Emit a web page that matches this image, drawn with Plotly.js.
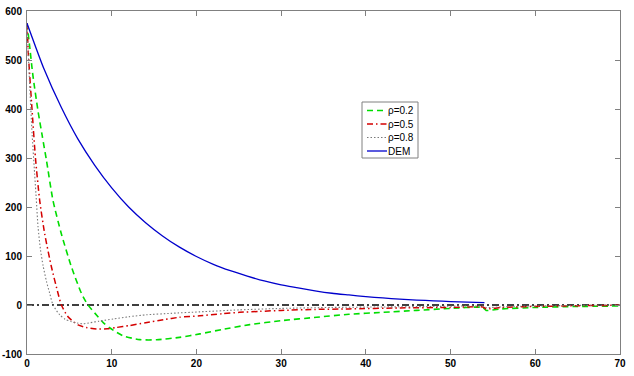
<!DOCTYPE html>
<html>
<head>
<meta charset="utf-8">
<script src="https://cdn.plot.ly/plotly-3.0.1.min.js"></script>
<style>html,body{margin:0;padding:0;background:#fff;}#chart{width:634px;height:376px;}</style>
</head>
<body>
<div id="chart"></div>
<script>
// ---- data ----
const seriesNames = ['ρ=0.2', 'ρ=0.5', 'ρ=0.8', 'DEM'];

const rho02X = [0, 0.3, 0.7, 1.3, 1.8, 2.3, 3.07, 4.06, 5.24, 6.42, 7.2, 8.38, 9.0, 9.8, 11.3, 13.3, 15.3, 18, 20.4, 23, 26.3, 30, 34.2, 38, 42, 46, 50, 53.8, 54.2, 56, 60, 65, 70];
const rho02Y = [575, 530, 468, 396, 345, 295, 213, 145, 78, 24, 0, -24, -36, -47, -62.5, -70.7, -71, -66, -59, -50, -40, -32, -25, -19, -15, -11, -7, -5, -11, -8, -5, -3, -2];

const rho05X = [0, 0.15, 0.55, 1.0, 1.5, 2.09, 2.88, 3.66, 4.06, 4.84, 6.02, 7.0, 8.2, 9.5, 10.5, 12.1, 14, 16.1, 18, 20.4, 23, 25.1, 27.5, 30, 34, 38, 44, 50, 53.8, 54.2, 56, 60, 65, 70];
const rho05Y = [575, 515, 410, 300, 213, 145, 78, 24, 0, -24, -40.6, -46, -49, -48.5, -46, -42, -36, -30, -25, -22, -18, -15, -13, -11, -9, -8, -6, -5, -4, -8, -5, -3, -1.5, -0.5];

const rho08X = [0, 0.3, 0.6, 0.9, 1.1, 1.3, 1.6, 1.9, 2.3, 2.68, 3.07, 3.86, 4.5, 5.24, 6.0, 6.6, 7.5, 8.5, 10.2, 12, 14.1, 17, 20.4, 25, 30, 36, 42, 48, 53.8, 54.2, 57, 62, 70];
const rho08Y = [575, 455, 350, 268, 215, 160, 112, 80, 48, 24, 0, -20, -29, -34, -37, -38.5, -36, -33, -28.6, -24, -20, -17, -14, -10, -7, -5, -4, -3, -2.5, -5, -3, -1.5, 0];

const demX = [0, 2, 4, 6, 8, 10, 12, 14, 16, 18, 20, 22, 24, 26, 28, 30, 32, 34, 36, 38, 40, 42, 44, 46, 48, 50, 52, 54];
const demY = [575, 482, 405, 339, 285, 239, 200, 168, 141, 118, 99, 83, 70, 59, 49, 41, 35, 29, 24, 20.5, 17, 14.4, 12, 10, 8.5, 7, 6, 5];

const zeroLineX = [0, 70];
const zeroLineY = [0, 0];

const xTicks = [0, 10, 20, 30, 40, 50, 60, 70];
const yTicks = [-100, 0, 100, 200, 300, 400, 500, 600];

// ---- styles ----
const styles = [
  {color: '#00dd00', width: 1.6, dash: '6px,4px'},
  {color: '#d40000', width: 1.5, dash: '6px,3px,1.5px,3px'},
  {color: '#7a7a7a', width: 1.1, dash: '1.5px,2px'},
  {color: '#0000cc', width: 1.3, dash: 'solid'}
];
const xs = [rho02X, rho05X, rho08X, demX];
const ys = [rho02Y, rho05Y, rho08Y, demY];

const traces = [{
  x: zeroLineX, y: zeroLineY, mode: 'lines', showlegend: false, hoverinfo: 'skip',
  line: {color: '#000000', width: 1.5, dash: '7px,3px,2px,3px'}
}];
for (let i = 0; i < 4; i++) {
  traces.push({
    x: xs[i], y: ys[i], name: seriesNames[i], mode: 'lines', showlegend: false,
    line: {color: styles[i].color, width: styles[i].width, dash: styles[i].dash, shape: 'spline', smoothing: 0.6}
  });
}

// ---- custom legend (MATLAB-like compact box) ----
const M = {l: 27, r: 14, t: 11, b: 22};
const W = 634, H = 376;
const pw = W - M.l - M.r, ph = H - M.t - M.b;
const px2x = p => (p - M.l) / pw;
const py2y = p => (H - M.b - p) / ph;

const shapes = [{
  type: 'rect', xref: 'paper', yref: 'paper', layer: 'above',
  x0: px2x(362), x1: px2x(418), y0: py2y(158), y1: py2y(102),
  fillcolor: '#ffffff', line: {color: '#808080', width: 1}
}];
const annotations = [];
const rowY = [110.5, 124, 137.5, 151];
for (let i = 0; i < 4; i++) {
  shapes.push({
    type: 'line', xref: 'paper', yref: 'paper', layer: 'above',
    x0: px2x(367), x1: px2x(387), y0: py2y(rowY[i]), y1: py2y(rowY[i]),
    line: {color: styles[i].color, width: styles[i].width, dash: styles[i].dash}
  });
  annotations.push({
    xref: 'paper', yref: 'paper', x: px2x(387), y: py2y(rowY[i]),
    xanchor: 'left', yanchor: 'middle', showarrow: false, text: seriesNames[i],
    font: {family: 'Liberation Sans, Arial, sans-serif', size: 10, color: '#000'},
    borderpad: 0
  });
}

const axisCommon = {
  showgrid: false, zeroline: false, showline: true, mirror: 'ticks',
  linecolor: '#808080', linewidth: 1, ticks: 'inside', ticklen: 5, tickcolor: '#808080', tickwidth: 1,
  tickfont: {family: 'Liberation Sans, Arial, sans-serif', size: 10, color: '#000', weight: 'bold'}
};

const layout = {
  width: W, height: H,
  margin: M,
  paper_bgcolor: '#ffffff', plot_bgcolor: '#ffffff',
  showlegend: false,
  xaxis: Object.assign({}, axisCommon, {range: [0, 70], tickvals: xTicks, ticktext: xTicks.map(String)}),
  yaxis: Object.assign({}, axisCommon, {range: [-100, 600], tickvals: yTicks, ticktext: yTicks.map(String), ticklabelstandoff: 2}),
  shapes: shapes,
  annotations: annotations
};

Plotly.newPlot('chart', traces, layout, {staticPlot: true, displayModeBar: false});
</script>
</body>
</html>
